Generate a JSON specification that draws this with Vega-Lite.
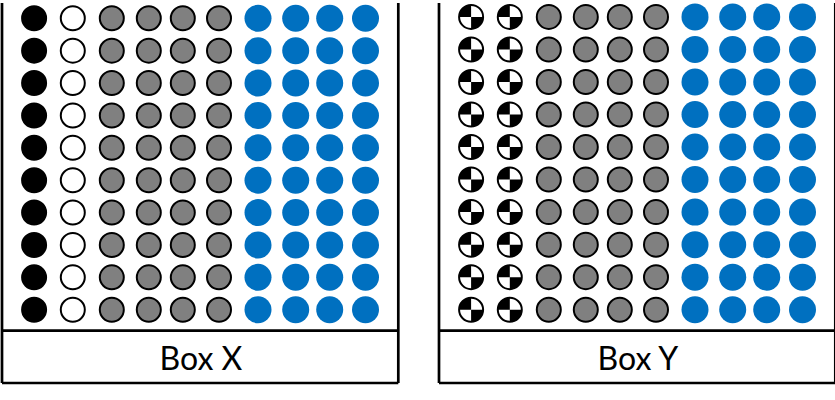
{
  "$schema": "https://vega.github.io/schema/vega-lite/v6.json",
  "padding": 0,
  "background": "white",
  "config": {"view": {"stroke": null}},
  "spacing": 40,
  "bounds": "flush",
  "datasets": {
    "boxX": [
      {"c":1,"r":1,"k":"black"},{"c":2,"r":1,"k":"white"},{"c":3,"r":1,"k":"gray"},{"c":4,"r":1,"k":"gray"},{"c":5,"r":1,"k":"gray"},{"c":6,"r":1,"k":"gray"},{"c":7,"r":1,"k":"blue"},{"c":8,"r":1,"k":"blue"},{"c":9,"r":1,"k":"blue"},{"c":10,"r":1,"k":"blue"},
      {"c":1,"r":2,"k":"black"},{"c":2,"r":2,"k":"white"},{"c":3,"r":2,"k":"gray"},{"c":4,"r":2,"k":"gray"},{"c":5,"r":2,"k":"gray"},{"c":6,"r":2,"k":"gray"},{"c":7,"r":2,"k":"blue"},{"c":8,"r":2,"k":"blue"},{"c":9,"r":2,"k":"blue"},{"c":10,"r":2,"k":"blue"},
      {"c":1,"r":3,"k":"black"},{"c":2,"r":3,"k":"white"},{"c":3,"r":3,"k":"gray"},{"c":4,"r":3,"k":"gray"},{"c":5,"r":3,"k":"gray"},{"c":6,"r":3,"k":"gray"},{"c":7,"r":3,"k":"blue"},{"c":8,"r":3,"k":"blue"},{"c":9,"r":3,"k":"blue"},{"c":10,"r":3,"k":"blue"},
      {"c":1,"r":4,"k":"black"},{"c":2,"r":4,"k":"white"},{"c":3,"r":4,"k":"gray"},{"c":4,"r":4,"k":"gray"},{"c":5,"r":4,"k":"gray"},{"c":6,"r":4,"k":"gray"},{"c":7,"r":4,"k":"blue"},{"c":8,"r":4,"k":"blue"},{"c":9,"r":4,"k":"blue"},{"c":10,"r":4,"k":"blue"},
      {"c":1,"r":5,"k":"black"},{"c":2,"r":5,"k":"white"},{"c":3,"r":5,"k":"gray"},{"c":4,"r":5,"k":"gray"},{"c":5,"r":5,"k":"gray"},{"c":6,"r":5,"k":"gray"},{"c":7,"r":5,"k":"blue"},{"c":8,"r":5,"k":"blue"},{"c":9,"r":5,"k":"blue"},{"c":10,"r":5,"k":"blue"},
      {"c":1,"r":6,"k":"black"},{"c":2,"r":6,"k":"white"},{"c":3,"r":6,"k":"gray"},{"c":4,"r":6,"k":"gray"},{"c":5,"r":6,"k":"gray"},{"c":6,"r":6,"k":"gray"},{"c":7,"r":6,"k":"blue"},{"c":8,"r":6,"k":"blue"},{"c":9,"r":6,"k":"blue"},{"c":10,"r":6,"k":"blue"},
      {"c":1,"r":7,"k":"black"},{"c":2,"r":7,"k":"white"},{"c":3,"r":7,"k":"gray"},{"c":4,"r":7,"k":"gray"},{"c":5,"r":7,"k":"gray"},{"c":6,"r":7,"k":"gray"},{"c":7,"r":7,"k":"blue"},{"c":8,"r":7,"k":"blue"},{"c":9,"r":7,"k":"blue"},{"c":10,"r":7,"k":"blue"},
      {"c":1,"r":8,"k":"black"},{"c":2,"r":8,"k":"white"},{"c":3,"r":8,"k":"gray"},{"c":4,"r":8,"k":"gray"},{"c":5,"r":8,"k":"gray"},{"c":6,"r":8,"k":"gray"},{"c":7,"r":8,"k":"blue"},{"c":8,"r":8,"k":"blue"},{"c":9,"r":8,"k":"blue"},{"c":10,"r":8,"k":"blue"},
      {"c":1,"r":9,"k":"black"},{"c":2,"r":9,"k":"white"},{"c":3,"r":9,"k":"gray"},{"c":4,"r":9,"k":"gray"},{"c":5,"r":9,"k":"gray"},{"c":6,"r":9,"k":"gray"},{"c":7,"r":9,"k":"blue"},{"c":8,"r":9,"k":"blue"},{"c":9,"r":9,"k":"blue"},{"c":10,"r":9,"k":"blue"},
      {"c":1,"r":10,"k":"black"},{"c":2,"r":10,"k":"white"},{"c":3,"r":10,"k":"gray"},{"c":4,"r":10,"k":"gray"},{"c":5,"r":10,"k":"gray"},{"c":6,"r":10,"k":"gray"},{"c":7,"r":10,"k":"blue"},{"c":8,"r":10,"k":"blue"},{"c":9,"r":10,"k":"blue"},{"c":10,"r":10,"k":"blue"}
    ],
    "boxY": [
      {"c":1,"r":1,"k":"check"},{"c":2,"r":1,"k":"check"},{"c":3,"r":1,"k":"gray"},{"c":4,"r":1,"k":"gray"},{"c":5,"r":1,"k":"gray"},{"c":6,"r":1,"k":"gray"},{"c":7,"r":1,"k":"blue"},{"c":8,"r":1,"k":"blue"},{"c":9,"r":1,"k":"blue"},{"c":10,"r":1,"k":"blue"},
      {"c":1,"r":2,"k":"check"},{"c":2,"r":2,"k":"check"},{"c":3,"r":2,"k":"gray"},{"c":4,"r":2,"k":"gray"},{"c":5,"r":2,"k":"gray"},{"c":6,"r":2,"k":"gray"},{"c":7,"r":2,"k":"blue"},{"c":8,"r":2,"k":"blue"},{"c":9,"r":2,"k":"blue"},{"c":10,"r":2,"k":"blue"},
      {"c":1,"r":3,"k":"check"},{"c":2,"r":3,"k":"check"},{"c":3,"r":3,"k":"gray"},{"c":4,"r":3,"k":"gray"},{"c":5,"r":3,"k":"gray"},{"c":6,"r":3,"k":"gray"},{"c":7,"r":3,"k":"blue"},{"c":8,"r":3,"k":"blue"},{"c":9,"r":3,"k":"blue"},{"c":10,"r":3,"k":"blue"},
      {"c":1,"r":4,"k":"check"},{"c":2,"r":4,"k":"check"},{"c":3,"r":4,"k":"gray"},{"c":4,"r":4,"k":"gray"},{"c":5,"r":4,"k":"gray"},{"c":6,"r":4,"k":"gray"},{"c":7,"r":4,"k":"blue"},{"c":8,"r":4,"k":"blue"},{"c":9,"r":4,"k":"blue"},{"c":10,"r":4,"k":"blue"},
      {"c":1,"r":5,"k":"check"},{"c":2,"r":5,"k":"check"},{"c":3,"r":5,"k":"gray"},{"c":4,"r":5,"k":"gray"},{"c":5,"r":5,"k":"gray"},{"c":6,"r":5,"k":"gray"},{"c":7,"r":5,"k":"blue"},{"c":8,"r":5,"k":"blue"},{"c":9,"r":5,"k":"blue"},{"c":10,"r":5,"k":"blue"},
      {"c":1,"r":6,"k":"check"},{"c":2,"r":6,"k":"check"},{"c":3,"r":6,"k":"gray"},{"c":4,"r":6,"k":"gray"},{"c":5,"r":6,"k":"gray"},{"c":6,"r":6,"k":"gray"},{"c":7,"r":6,"k":"blue"},{"c":8,"r":6,"k":"blue"},{"c":9,"r":6,"k":"blue"},{"c":10,"r":6,"k":"blue"},
      {"c":1,"r":7,"k":"check"},{"c":2,"r":7,"k":"check"},{"c":3,"r":7,"k":"gray"},{"c":4,"r":7,"k":"gray"},{"c":5,"r":7,"k":"gray"},{"c":6,"r":7,"k":"gray"},{"c":7,"r":7,"k":"blue"},{"c":8,"r":7,"k":"blue"},{"c":9,"r":7,"k":"blue"},{"c":10,"r":7,"k":"blue"},
      {"c":1,"r":8,"k":"check"},{"c":2,"r":8,"k":"check"},{"c":3,"r":8,"k":"gray"},{"c":4,"r":8,"k":"gray"},{"c":5,"r":8,"k":"gray"},{"c":6,"r":8,"k":"gray"},{"c":7,"r":8,"k":"blue"},{"c":8,"r":8,"k":"blue"},{"c":9,"r":8,"k":"blue"},{"c":10,"r":8,"k":"blue"},
      {"c":1,"r":9,"k":"check"},{"c":2,"r":9,"k":"check"},{"c":3,"r":9,"k":"gray"},{"c":4,"r":9,"k":"gray"},{"c":5,"r":9,"k":"gray"},{"c":6,"r":9,"k":"gray"},{"c":7,"r":9,"k":"blue"},{"c":8,"r":9,"k":"blue"},{"c":9,"r":9,"k":"blue"},{"c":10,"r":9,"k":"blue"},
      {"c":1,"r":10,"k":"check"},{"c":2,"r":10,"k":"check"},{"c":3,"r":10,"k":"gray"},{"c":4,"r":10,"k":"gray"},{"c":5,"r":10,"k":"gray"},{"c":6,"r":10,"k":"gray"},{"c":7,"r":10,"k":"blue"},{"c":8,"r":10,"k":"blue"},{"c":9,"r":10,"k":"blue"},{"c":10,"r":10,"k":"blue"}
    ],
    "frame": [
      {"c":0,"c2":0,"r":0,"r2":12},
      {"c":11,"c2":11,"r":0,"r2":12},
      {"c":0,"c2":11,"r":11,"r2":11},
      {"c":0,"c2":11,"r":12,"r2":12}
    ]
  },
  "hconcat": [
    {
      "width": 396.3,
      "height": 380,
      "encoding": {
        "x": {"field": "c", "type": "quantitative", "axis": null,
              "scale": {"domain": [0,1,2,3,4,5,6,7,8,9,10,11], "range": [0,32.1,70.8,109.8,146.8,180.8,217,256,293.7,327.7,363.5,396.3], "nice": false, "zero": false}},
        "y": {"field": "r", "type": "quantitative", "axis": null,
              "scale": {"domain": [0,1,10,11,12], "range": [0,15.3,306.7,327.7,380], "nice": false, "zero": false}}
      },
      "layer": [
        {
          "data": {"name": "frame"},
          "mark": {"type": "rule", "color": "#000000", "strokeWidth": 2.7},
          "encoding": {"x2": {"field": "c2"}, "y2": {"field": "r2"}}
        },
        {
          "data": {"name": "boxX"},
          "transform": [{"filter": "datum.k !== 'blue'"}],
          "mark": {"type": "point", "shape": "circle", "filled": true, "size": 576, "stroke": "#000000", "strokeWidth": 2, "opacity": 1},
          "encoding": {
            "fill": {"field": "k", "type": "nominal", "legend": null,
                     "scale": {"domain": ["black","white","gray","check"], "range": ["#000000","#ffffff","#808080","#ffffff"]}}
          }
        },
        {
          "data": {"name": "boxX"},
          "transform": [{"filter": "datum.k === 'blue'"}],
          "mark": {"type": "point", "shape": "circle", "filled": true, "size": 729, "color": "#0070C0", "strokeWidth": 0, "opacity": 1}
        },
        {
          "data": {"values": [{"c": 5.5, "r": 11.75, "label": "Box X"}]},
          "mark": {"type": "text", "align": "center", "baseline": "alphabetic", "font": "Lato", "fontSize": 32, "color": "#000000"},
          "encoding": {"text": {"field": "label"}}
        }
      ]
    },
    {
      "width": 396.3,
      "height": 380,
      "encoding": {
        "x": {"field": "c", "type": "quantitative", "axis": null,
              "scale": {"domain": [0,1,2,3,4,5,6,7,8,9,10,11], "range": [0,32.1,70.8,109.8,146.8,180.8,217,256,293.7,327.7,363.5,396.3], "nice": false, "zero": false}},
        "y": {"field": "r", "type": "quantitative", "axis": null,
              "scale": {"domain": [0,1,10,11,12], "range": [0,13.9,306.7,327.7,380], "nice": false, "zero": false}}
      },
      "layer": [
        {
          "data": {"name": "frame"},
          "mark": {"type": "rule", "color": "#000000", "strokeWidth": 2.7},
          "encoding": {"x2": {"field": "c2"}, "y2": {"field": "r2"}}
        },
        {
          "data": {"name": "boxY"},
          "transform": [{"filter": "datum.k !== 'blue'"}],
          "mark": {"type": "point", "shape": "circle", "filled": true, "size": 576, "stroke": "#000000", "strokeWidth": 2, "opacity": 1},
          "encoding": {
            "fill": {"field": "k", "type": "nominal", "legend": null,
                     "scale": {"domain": ["black","white","gray","check"], "range": ["#000000","#ffffff","#808080","#ffffff"]}}
          }
        },
        {
          "data": {"name": "boxY"},
          "transform": [{"filter": "datum.k === 'check'"}],
          "mark": {"type": "point", "shape": "M0,0L-1,0A1,1,0,0,1,0,-1ZM0,0L1,0A1,1,0,0,1,0,1Z", "filled": true, "size": 576, "color": "#000000", "strokeWidth": 0, "opacity": 1}
        },
        {
          "data": {"name": "boxY"},
          "transform": [{"filter": "datum.k === 'blue'"}],
          "mark": {"type": "point", "shape": "circle", "filled": true, "size": 729, "color": "#0070C0", "strokeWidth": 0, "opacity": 1}
        },
        {
          "data": {"values": [{"c": 5.5, "r": 11.75, "label": "Box Y"}]},
          "mark": {"type": "text", "align": "center", "baseline": "alphabetic", "font": "Lato", "fontSize": 32, "color": "#000000"},
          "encoding": {"text": {"field": "label"}}
        }
      ]
    }
  ]
}
